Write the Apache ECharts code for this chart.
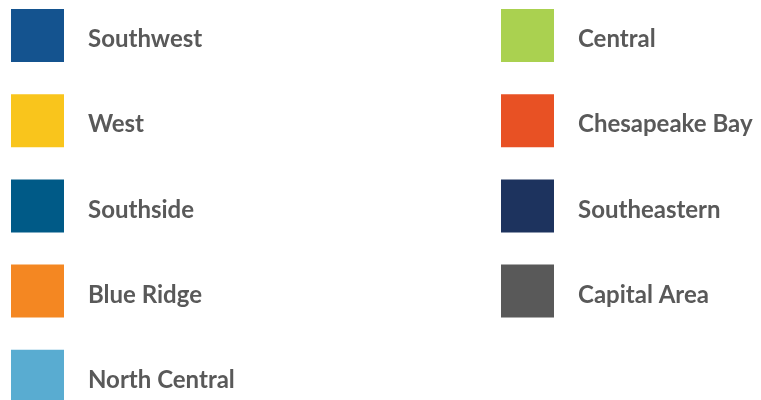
<!DOCTYPE html>
<html>
<head>
<meta charset="utf-8">
<script src="https://cdn.jsdelivr.net/npm/echarts@6/dist/echarts.min.js"></script>
<style>html,body{margin:0;padding:0;background:#fff}#c{width:761px;height:400px}</style>
</head>
<body>
<div id="c"></div>
<script>
var leftNames = ['Southwest', 'West', 'Southside', 'Blue Ridge', 'North Central'];
var leftColors = ['#14538f', '#f9c51c', '#005a87', '#f48722', '#59acd1'];
var rightNames = ['Central', 'Chesapeake Bay', 'Southeastern', 'Capital Area'];
var rightColors = ['#aad150', '#e85124', '#1d335e', '#595959'];

var names = leftNames.concat(rightNames);
var colors = leftColors.concat(rightColors);

var chart = echarts.init(document.getElementById('c'), null, {renderer: 'canvas'});
var textStyle = {
  fontFamily: 'Lato',
  fontWeight: 'bold',
  fontSize: 24,
  color: '#595959',
  rich: {
    a: {
      fontFamily: 'Lato',
      fontWeight: 'bold',
      fontSize: 24,
      color: '#595959',
      padding: [8, 0, 0, 19]
    }
  }
};
chart.setOption({
  animation: false,
  color: colors,
  grid: {show: false, left: 0, right: 0, top: 0, bottom: 0},
  xAxis: {type: 'category', show: false, data: []},
  yAxis: {type: 'value', show: false},
  legend: [
    {
      data: leftNames, orient: 'vertical', left: 11, top: 9, padding: 0,
      width: 300, height: 600,
      itemWidth: 53, itemHeight: 53, itemGap: 32.2, icon: 'rect',
      formatter: '{a|{name}}',
      selectedMode: false, textStyle: textStyle
    },
    {
      data: rightNames, orient: 'vertical', left: 501, top: 9, padding: 0,
      width: 300, height: 600,
      itemWidth: 53, itemHeight: 53, itemGap: 32.2, icon: 'rect',
      formatter: '{a|{name}}',
      selectedMode: false, textStyle: textStyle
    }
  ],
  series: names.map(function (n) {
    return {type: 'bar', name: n, data: []};
  })
});
</script>
</body>
</html>
